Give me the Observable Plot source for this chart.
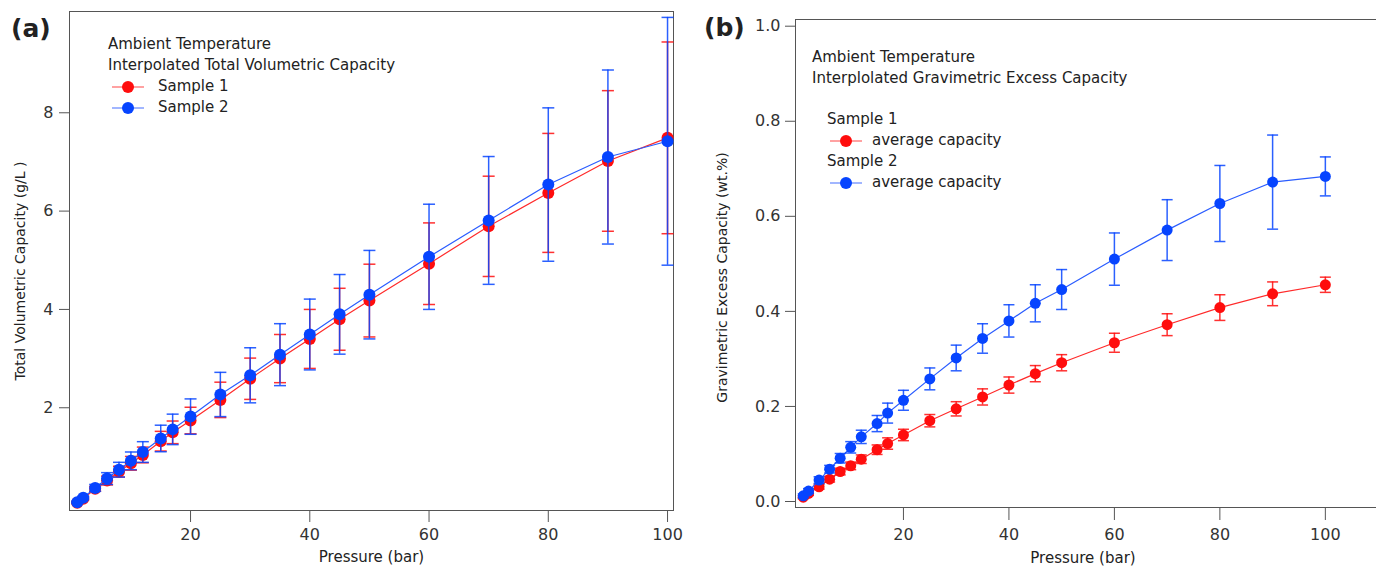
<!DOCTYPE html>
<html>
<head>
<meta charset="utf-8">
<script src="https://cdn.jsdelivr.net/npm/d3@7"></script>
<script src="https://cdn.jsdelivr.net/npm/@observablehq/plot@0.6"></script>
<style>
  html, body { margin: 0; padding: 0; background: #fff; }
  body { width: 1376px; height: 568px; position: relative; overflow: hidden; font-family: "DejaVu Sans", sans-serif; color: #222; }
  .panel { position: absolute; top: 0; width: 688px; height: 568px; }
  .tag { position: absolute; font-family: "DejaVu Sans", sans-serif; font-weight: bold; font-size: 25px; color: #222; }
  .leg { position: absolute; font-size: 15px; color: #222; white-space: nowrap; line-height: 21px; }
  .leg .row { display: flex; align-items: center; height: 21px; }
  .leg svg { display: block; }
</style>
</head>
<body>
<div id="pa" class="panel" style="left:0"></div>
<div id="pb" class="panel" style="left:688px"></div>
<script>
// ---------- data ----------
const pressure = [1, 2, 4, 6, 8, 10, 12, 15, 17, 20, 25, 30, 35, 40, 45, 50, 60, 70, 80, 90, 100];

// (a) Interpolated total volumetric capacity (g/L)
const volSample1    = [0.07, 0.15, 0.35, 0.52, 0.70, 0.87, 1.04, 1.32, 1.50, 1.74, 2.16, 2.59, 3.00, 3.40, 3.80, 4.18, 4.93, 5.69, 6.37, 7.02, 7.49];
const volSample1Err = [0.02, 0.03, 0.05, 0.09, 0.11, 0.14, 0.16, 0.20, 0.23, 0.27, 0.36, 0.42, 0.49, 0.60, 0.63, 0.74, 0.83, 1.02, 1.21, 1.43, 1.95];
const volSample2    = [0.08, 0.17, 0.37, 0.56, 0.74, 0.92, 1.10, 1.375, 1.56, 1.82, 2.27, 2.66, 3.08, 3.49, 3.90, 4.30, 5.07, 5.81, 6.54, 7.10, 7.42];
const volSample2Err = [0.02, 0.03, 0.07, 0.12, 0.15, 0.18, 0.21, 0.27, 0.31, 0.36, 0.45, 0.56, 0.63, 0.72, 0.81, 0.90, 1.07, 1.30, 1.56, 1.77, 2.52];

// (b) Interpolated gravimetric excess capacity (wt.%)
const gravSample1    = [0.009, 0.017, 0.031, 0.047, 0.063, 0.075, 0.089, 0.109, 0.122, 0.140, 0.170, 0.195, 0.220, 0.245, 0.269, 0.292, 0.334, 0.372, 0.408, 0.437, 0.456];
const gravSample1Err = [0.003, 0.004, 0.005, 0.006, 0.007, 0.008, 0.009, 0.010, 0.012, 0.012, 0.013, 0.015, 0.017, 0.017, 0.017, 0.017, 0.020, 0.023, 0.027, 0.025, 0.016];
const gravSample2    = [0.012, 0.022, 0.045, 0.068, 0.091, 0.114, 0.136, 0.164, 0.186, 0.213, 0.258, 0.302, 0.343, 0.380, 0.417, 0.446, 0.510, 0.571, 0.627, 0.672, 0.684];
const gravSample2Err = [0.004, 0.005, 0.007, 0.008, 0.010, 0.012, 0.014, 0.017, 0.021, 0.021, 0.023, 0.027, 0.031, 0.034, 0.039, 0.042, 0.055, 0.064, 0.080, 0.099, 0.041];

const xTicksA = [20, 40, 60, 80, 100];
const yTicksA = [2, 4, 6, 8];
const xTicksB = [20, 40, 60, 80, 100];
const yTicksB = [0.0, 0.2, 0.4, 0.6, 0.8, 1.0];

const xLabel = "Pressure (bar)";
const yLabelA = "Total Volumetric Capacity (g/L )";
const yLabelB = "Gravimetric Excess Capacity (wt.%)";
const legendA = ["Ambient Temperature", "Interpolated Total Volumetric Capacity"];
const legendB = ["Ambient Temperature", "Interplolated Gravimetric Excess Capacity"];
const seriesNames = ["Sample 1", "Sample 2"];

const RED = "#ff0d0d", RED_LINE = "#ff2a2a", RED_LIGHT = "#ff7070";
const BLUE = "#0644ff", BLUE_LINE = "#2a5cff", BLUE_LIGHT = "#6f8fff";

// ---------- helpers ----------
const rows = (ys, errs) => pressure.map((p, i) => ({p, v: ys[i], lo: ys[i] - errs[i], hi: ys[i] + errs[i]}));
const hline = { draw(ctx, size) { const r = Math.sqrt(size / Math.PI); ctx.moveTo(-r, 0); ctx.lineTo(r, 0); } };

function seriesMarks(data, color, lineColor, capR, dotR) {
  return [
    Plot.line(data, {x: "p", y: "v", stroke: lineColor, strokeWidth: 1.2}),
    Plot.ruleX(data, {x: "p", y1: "lo", y2: "hi", stroke: color, strokeWidth: 1.5, strokeOpacity: 0.85}),
    Plot.dot(data, {x: "p", y: "lo", symbol: hline, r: capR, stroke: color, strokeWidth: 1.5, fill: "none", strokeOpacity: 0.85}),
    Plot.dot(data, {x: "p", y: "hi", symbol: hline, r: capR, stroke: color, strokeWidth: 1.5, fill: "none", strokeOpacity: 0.85}),
    Plot.dot(data, {x: "p", y: "v", r: dotR, fill: color, stroke: "none"})
  ];
}

const font = "DejaVu Sans, sans-serif";

// ---------- panel (a) ----------
const dA1 = rows(volSample1, volSample1Err);
const dA2 = rows(volSample2, volSample2Err);
const xDomA = [-0.3, 101];
const yDomA = [-0.09, 10.06];
const plotA = Plot.plot({
  width: 688, height: 568,
  marginLeft: 69, marginRight: 15, marginTop: 11, marginBottom: 58,
  style: {fontFamily: font, fontSize: "16px", color: "#333", background: "white"},
  x: {domain: xDomA},
  y: {domain: yDomA},
  marks: [
    Plot.frame({stroke: "#555", strokeWidth: 1}),
    Plot.axisX({ticks: xTicksA, tickSize: 12, tickPadding: 6, label: null, tickFormat: d3.format("d"), stroke: "#555", fill: "#333"}),
    Plot.axisY({ticks: yTicksA, tickSize: 10, tickPadding: 6, label: null, tickFormat: d3.format("d"), stroke: "#555", fill: "#333"}),
    ...seriesMarks(dA1, RED, RED_LINE, 6, 6),
    ...seriesMarks(dA2, BLUE, BLUE_LINE, 6, 6),
    Plot.text([xLabel], {frameAnchor: "bottom", textAnchor: "middle", lineAnchor: "middle", dy: 47, fontSize: 15, fill: "#222", text: d => d}),
    Plot.text([yLabelA], {frameAnchor: "left", textAnchor: "middle", dx: -49, dy: 10, rotate: -90, fontSize: 14, fill: "#222", text: d => d})
  ]
});
document.getElementById("pa").appendChild(plotA);

// ---------- panel (b) ----------
const dB1 = rows(gravSample1, gravSample1Err);
const dB2 = rows(gravSample2, gravSample2Err);
const xDomB = [-0.47, 109.7];
const yDomB = [-0.0126, 1.0141];
const plotB = Plot.plot({
  width: 688, height: 568,
  marginLeft: 107, marginRight: 0, marginTop: 19, marginBottom: 61,
  style: {fontFamily: font, fontSize: "16px", color: "#333", background: "white"},
  x: {domain: xDomB},
  y: {domain: yDomB},
  marks: [
    Plot.ruleY([yDomB[0], yDomB[1]], {stroke: "#555", strokeWidth: 1}),
    Plot.ruleX([xDomB[0]], {stroke: "#555", strokeWidth: 1}),
    Plot.axisX({ticks: xTicksB, tickSize: 13, tickPadding: 8, label: null, tickFormat: d3.format("d"), stroke: "#555", fill: "#333"}),
    Plot.axisY({ticks: yTicksB, tickSize: 10, tickPadding: 5, label: null, tickFormat: d3.format(".1f"), stroke: "#555", fill: "#333"}),
    ...seriesMarks(dB1, RED, RED_LINE, 5.5, 5.5),
    ...seriesMarks(dB2, BLUE, BLUE_LINE, 5.5, 5.5),
    Plot.text([xLabel], {frameAnchor: "bottom", textAnchor: "middle", lineAnchor: "middle", dx: -3, dy: 51, fontSize: 15, fill: "#222", text: d => d}),
    Plot.text([yLabelB], {frameAnchor: "left", textAnchor: "middle", dx: -73, dy: 14, rotate: -90, fontSize: 14, fill: "#222", text: d => d})
  ]
});
document.getElementById("pb").appendChild(plotB);

// ---------- panel tags & legends (HTML overlays) ----------
function addTag(parent, txt, left, top) {
  const d = document.createElement("div");
  d.className = "tag"; d.textContent = txt;
  d.style.left = left + "px"; d.style.top = top + "px";
  parent.appendChild(d);
}
function swatch(color, lineColor) {
  return `<svg width="34" height="14"><line x1="1" y1="7" x2="33" y2="7" stroke="${lineColor}" stroke-width="1.3"/><circle cx="17" cy="7" r="6" fill="${color}"/></svg>`;
}
addTag(document.getElementById("pa"), "(a)", 11, 14);
addTag(document.getElementById("pb"), "(b)", 16, 13);

const legA = document.createElement("div");
legA.className = "leg"; legA.style.left = "108px"; legA.style.top = "34px";
legA.innerHTML =
  `<div class="row">${legendA[0]}</div>` +
  `<div class="row">${legendA[1]}</div>` +
  `<div class="row" style="margin-left:3px">${swatch(RED, RED_LIGHT)}<span style="margin-left:13px">${seriesNames[0]}</span></div>` +
  `<div class="row" style="margin-left:3px">${swatch(BLUE, BLUE_LIGHT)}<span style="margin-left:13px">${seriesNames[1]}</span></div>`;
document.getElementById("pa").appendChild(legA);

const legB = document.createElement("div");
legB.className = "leg"; legB.style.left = "124px"; legB.style.top = "47px";
legB.innerHTML =
  `<div class="row">${legendB[0]}</div>` +
  `<div class="row">${legendB[1]}</div>` +
  `<div class="row" style="height:20px"></div>` +
  `<div class="row" style="margin-left:15px">${seriesNames[0]}</div>` +
  `<div class="row" style="margin-left:17px">${swatch(RED, RED_LIGHT)}<span style="margin-left:9px">average capacity</span></div>` +
  `<div class="row" style="margin-left:15px">${seriesNames[1]}</div>` +
  `<div class="row" style="margin-left:17px">${swatch(BLUE, BLUE_LIGHT)}<span style="margin-left:9px">average capacity</span></div>`;
document.getElementById("pb").appendChild(legB);
</script>
</body>
</html>
